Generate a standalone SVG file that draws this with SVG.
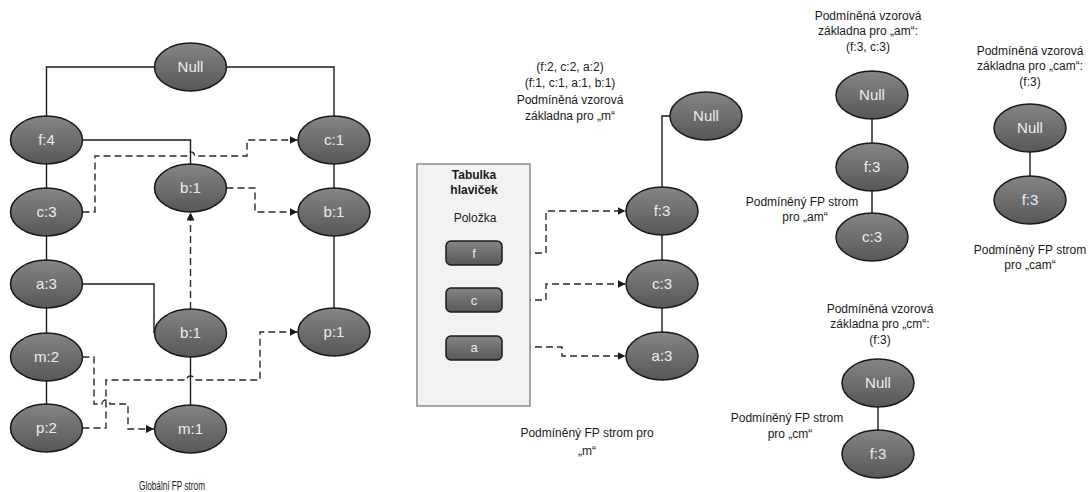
<svg xmlns="http://www.w3.org/2000/svg" width="1091" height="492" viewBox="0 0 1091 492">
<defs>
<linearGradient id="ng" x1="0" y1="0" x2="0" y2="1">
<stop offset="0" stop-color="#858585"/>
<stop offset="1" stop-color="#575757"/>
</linearGradient>
<marker id="ar" viewBox="0 0 10 10" refX="10" refY="5" markerWidth="8" markerHeight="8" markerUnits="userSpaceOnUse" orient="auto">
<path d="M0,0 L10,5 L0,10 z" fill="#1a1a1a"/>
</marker>
<style>
.n{fill:url(#ng);stroke:#1a1a1a;stroke-width:1.5}
.nt{font-family:"Liberation Sans",Arial,sans-serif;font-size:15px;fill:#ececec;text-anchor:middle}
.it{font-family:"Liberation Sans",Arial,sans-serif;font-size:13px;fill:#ececec;text-anchor:middle}
.s{fill:none;stroke:#1a1a1a;stroke-width:1.4}
.d{fill:none;stroke:#2a2a2a;stroke-width:1.4;stroke-dasharray:7,4;marker-end:url(#ar)}
.t{font-family:"Liberation Sans",Arial,sans-serif;font-size:12px;fill:#1a1a1a;text-anchor:middle}
.b{font-weight:bold}
</style>
</defs>
<rect width="1091" height="492" fill="#ffffff"/>

<g id="connectors">
<path class="s" d="M154.5,67 H46.5 V116"/>
<path class="s" d="M226.5,67 H334 V116"/>
<path class="s" d="M82.5,140 H190.5 V164"/>
<path class="s" d="M46.5,164 V188 M46.5,236 V260 M46.5,308 V333 M46.5,381 V404"/>
<path class="s" d="M334,164 V188 M334,236 V308"/>
<path class="s" d="M82.5,284 H154 V333"/>
<path class="s" d="M190.5,357 V405"/>
<path class="d" d="M82.5,212 H95 V156 H186.5 A4,4 0 0 1 194.5,156 H247 V140 H297.5"/>
<path class="d" d="M226.5,188 H255 V212 H297.5"/>
<path class="d" d="M190.5,309 V212.5"/>
<path class="d" d="M82.5,357 H94 V404 H102 A4,4 0 0 1 110,404 H128 V429 H154"/>
<path class="d" d="M82.5,428 H106 V380 H186.5 A4,4 0 0 1 194.5,380 H260 V332 H297.5"/>

<path class="s" d="M670,116 H662 V187 M662,235 V260 M662,308 V332"/>
<path class="d" d="M502,253 H546 V211 H625.5"/>
<path class="d" d="M502,300 H546 V284 H625.5"/>
<path class="d" d="M502,347 H562 V356 H625.5"/>

<path class="s" d="M872,119 V143 M872,191 V213"/>
<path class="s" d="M1030,152 V176"/>
<path class="s" d="M878,407 V430"/>
</g>

<g id="global-null"><ellipse class="n" cx="190.5" cy="67" rx="36" ry="24"/><text class="nt" x="190.5" y="72">Null</text></g>
<g id="global-f4"><ellipse class="n" cx="46.5" cy="140" rx="36" ry="24"/><text class="nt" x="46.5" y="145">f:4</text></g>
<g id="global-c1"><ellipse class="n" cx="334" cy="140" rx="36" ry="24"/><text class="nt" x="334" y="145">c:1</text></g>
<g id="global-b1-top"><ellipse class="n" cx="190.5" cy="188" rx="36" ry="24"/><text class="nt" x="190.5" y="193">b:1</text></g>
<g id="global-c3"><ellipse class="n" cx="46.5" cy="212" rx="36" ry="24"/><text class="nt" x="46.5" y="217">c:3</text></g>
<g id="global-b1-right"><ellipse class="n" cx="334" cy="212" rx="36" ry="24"/><text class="nt" x="334" y="217">b:1</text></g>
<g id="global-a3"><ellipse class="n" cx="46.5" cy="284" rx="36" ry="24"/><text class="nt" x="46.5" y="289">a:3</text></g>
<g id="global-b1-low"><ellipse class="n" cx="190.5" cy="333" rx="36" ry="24"/><text class="nt" x="190.5" y="338">b:1</text></g>
<g id="global-p1"><ellipse class="n" cx="334" cy="332" rx="36" ry="24"/><text class="nt" x="334" y="337">p:1</text></g>
<g id="global-m2"><ellipse class="n" cx="46.5" cy="357" rx="36" ry="24"/><text class="nt" x="46.5" y="362">m:2</text></g>
<g id="global-p2"><ellipse class="n" cx="46.5" cy="428" rx="36" ry="24"/><text class="nt" x="46.5" y="433">p:2</text></g>
<g id="global-m1"><ellipse class="n" cx="190.5" cy="429" rx="36" ry="24"/><text class="nt" x="190.5" y="434">m:1</text></g>
<g id="global-label"><text class="t" x="172" y="490" textLength="66" lengthAdjust="spacingAndGlyphs">Globální FP strom</text></g>

<g id="m-base-label">
<text class="t" x="570" y="71">(f:2, c:2, a:2)</text>
<text class="t" x="570" y="87">(f:1, c:1, a:1, b:1)</text>
<text class="t" x="570" y="104">Podmíněná vzorová</text>
<text class="t" x="570" y="120">základna pro „m“</text>
</g>
<g id="header-table">
<rect x="417" y="164" width="113" height="242" fill="#f2f2f2" stroke="#8a8a8a" stroke-width="1.5"/>
<text class="t b" x="474" y="179">Tabulka</text>
<text class="t b" x="474" y="194">hlaviček</text>
<text class="t" x="475" y="222">Položka</text>
</g>
<g id="item-f"><rect class="n" x="446" y="241" width="56" height="24" rx="5"/><text class="it" x="474" y="258">f</text></g>
<g id="item-c"><rect class="n" x="446" y="288" width="56" height="24" rx="5"/><text class="it" x="474" y="305">c</text></g>
<g id="item-a"><rect class="n" x="446" y="336" width="56" height="24" rx="5"/><text class="it" x="474" y="352">a</text></g>
<g id="m-null"><ellipse class="n" cx="706" cy="116" rx="36" ry="24"/><text class="nt" x="706" y="121">Null</text></g>
<g id="m-f3"><ellipse class="n" cx="662" cy="211" rx="36" ry="24"/><text class="nt" x="662" y="216">f:3</text></g>
<g id="m-c3"><ellipse class="n" cx="662" cy="284" rx="36" ry="24"/><text class="nt" x="662" y="289">c:3</text></g>
<g id="m-a3"><ellipse class="n" cx="662" cy="356" rx="36" ry="24"/><text class="nt" x="662" y="361">a:3</text></g>
<g id="m-tree-label">
<text class="t" x="587" y="437">Podmíněný FP strom pro</text>
<text class="t" x="587" y="455">„m“</text>
</g>

<g id="am-base-label">
<text class="t" x="868" y="20">Podmíněná vzorová</text>
<text class="t" x="868" y="35">základna pro „am“:</text>
<text class="t" x="868" y="51">(f:3, c:3)</text>
</g>
<g id="am-null"><ellipse class="n" cx="872" cy="95" rx="36" ry="24"/><text class="nt" x="872" y="100">Null</text></g>
<g id="am-f3"><ellipse class="n" cx="872" cy="167" rx="36" ry="24"/><text class="nt" x="872" y="172">f:3</text></g>
<g id="am-c3"><ellipse class="n" cx="872" cy="237" rx="36" ry="24"/><text class="nt" x="872" y="242">c:3</text></g>
<g id="am-tree-label">
<text class="t" x="802" y="206">Podmíněný FP strom</text>
<text class="t" x="805" y="221">pro „am“</text>
</g>

<g id="cam-base-label">
<text class="t" x="1030" y="55">Podmíněná vzorová</text>
<text class="t" x="1030" y="70">základna pro „cam“:</text>
<text class="t" x="1030" y="86">(f:3)</text>
</g>
<g id="cam-null"><ellipse class="n" cx="1030" cy="128" rx="36" ry="24"/><text class="nt" x="1030" y="133">Null</text></g>
<g id="cam-f3"><ellipse class="n" cx="1030" cy="200" rx="36" ry="24"/><text class="nt" x="1030" y="205">f:3</text></g>
<g id="cam-tree-label">
<text class="t" x="1030" y="254">Podmíněný FP strom</text>
<text class="t" x="1030" y="269">pro „cam“</text>
</g>

<g id="cm-base-label">
<text class="t" x="880" y="313">Podmíněná vzorová</text>
<text class="t" x="880" y="328">základna pro „cm“:</text>
<text class="t" x="880" y="344">(f:3)</text>
</g>
<g id="cm-null"><ellipse class="n" cx="878" cy="383" rx="36" ry="24"/><text class="nt" x="878" y="388">Null</text></g>
<g id="cm-f3"><ellipse class="n" cx="878" cy="454" rx="36" ry="24"/><text class="nt" x="878" y="459">f:3</text></g>
<g id="cm-tree-label">
<text class="t" x="787" y="422">Podmíněný FP strom</text>
<text class="t" x="790" y="438">pro „cm“</text>
</g>
</svg>
